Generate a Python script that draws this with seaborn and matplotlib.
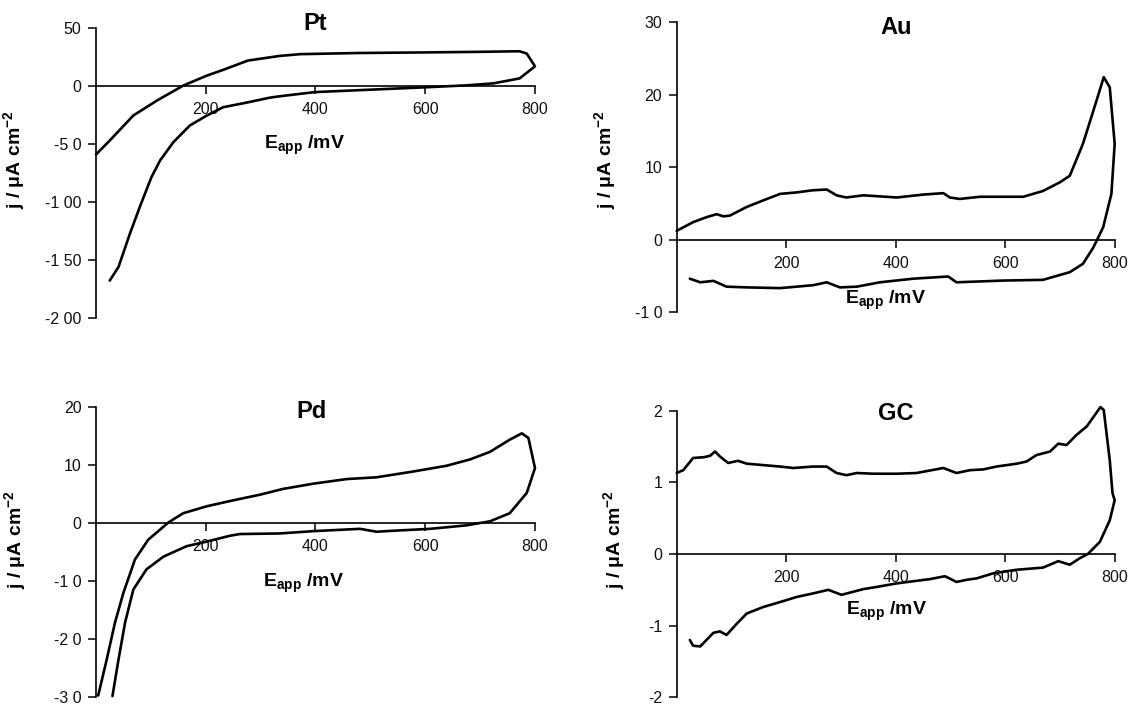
import numpy as np
import matplotlib
matplotlib.use("Agg")
import matplotlib.pyplot as plt
import seaborn as sns

sns.set_theme(style="white")
plt.rcParams["font.family"] = ["Liberation Sans", "DejaVu Sans"]
plt.rcParams["text.color"] = "black"
plt.rcParams["axes.labelcolor"] = "black"
plt.rcParams["mathtext.fontset"] = "custom"
plt.rcParams["mathtext.rm"] = "Liberation Sans"
plt.rcParams["mathtext.bf"] = "Liberation Sans:bold"
plt.rcParams["mathtext.it"] = "Liberation Sans:italic"

# Pt: forward (anodic) and reverse scan, E in mV, j in uA cm-2
pt_E_fwd = [0, 25, 68, 111, 159, 202, 232, 277, 335, 372, 480, 600, 700, 772, 785, 800]
pt_j_fwd = [-59, -47, -25.4, -12.5, 0.4, 9, 14, 22, 26, 27.5, 28.5, 29, 29.5, 30, 28, 17]
pt_E_rev = [800, 772, 724, 675, 599, 487, 399, 335, 317, 269, 232, 202, 171, 141, 117, 101, 80, 62, 41, 25]
pt_j_rev = [17, 6.6, 2.3, 0.6, -1.1, -3.4, -5.2, -8.8, -10, -14.8, -18.2, -25.4, -34, -48.4, -64, -78.6,
            -104, -127, -156, -167.7]

# Au
au_E_fwd = [0, 30, 55, 73, 85, 97, 128, 158, 189, 219, 249, 274, 292, 310, 341, 402, 450, 487,
            499, 517, 554, 633, 669, 700, 718, 742, 767, 780, 791, 800]
au_j_fwd = [1.2, 2.4, 3.1, 3.5, 3.2, 3.3, 4.5, 5.4, 6.3, 6.5, 6.8, 6.9, 6.1, 5.8, 6.1, 5.8, 6.2, 6.4,
            5.8, 5.6, 5.9, 5.9, 6.7, 7.9, 8.8, 13.2, 19.2, 22.4, 21.0, 13.2]
au_E_rev = [800, 794, 779, 761, 742, 718, 669, 596, 511, 496, 432, 371, 329, 298, 274, 249,
            189, 128, 91, 67, 43, 24]
au_j_rev = [13.2, 6.3, 1.7, -1.1, -3.35, -4.5, -5.56, -5.66, -5.9, -5.1, -5.4, -5.9, -6.5, -6.6, -5.9, -6.3,
            -6.7, -6.6, -6.5, -5.7, -5.9, -5.4]

# Pd
pd_E_fwd = [4, 19.5, 34.6, 49.8, 71, 95, 132, 159, 202, 244, 299, 341, 396, 457, 511, 578, 639, 682, 718,
            754, 776, 788, 794, 800]
pd_j_fwd = [-29.8, -23.6, -17.2, -12.1, -6.3, -2.9, 0.1, 1.7, 2.9, 3.8, 4.9, 5.9, 6.8, 7.6, 7.9, 8.9, 9.9,
            11.0, 12.3, 14.4, 15.5, 14.7, 12.1, 9.5]
pd_E_rev = [800, 785, 754, 718, 675, 609, 548, 511, 481, 396, 335, 262, 244, 202, 165, 123, 92, 68, 53, 41, 30]
pd_j_rev = [9.5, 5.2, 1.7, 0.3, -0.4, -1.0, -1.3, -1.5, -1.0, -1.4, -1.8, -1.9, -2.2, -3.2, -4.0, -5.8,
            -8.0, -11.5, -17.2, -23.6, -29.9]

# GC
gc_E_fwd = [0, 12, 30, 49, 61, 70, 79, 94, 112, 128, 189, 213, 249, 274, 292, 310, 329, 359, 402,
            438, 487, 511, 536, 560, 584, 621, 639, 657, 682, 697, 712, 730, 749, 774, 780, 791, 796, 800]
gc_j_fwd = [1.13, 1.17, 1.34, 1.35, 1.37, 1.43, 1.36, 1.27, 1.30, 1.26, 1.22, 1.20, 1.22, 1.22, 1.13,
            1.10, 1.13, 1.12, 1.12, 1.13, 1.20, 1.13, 1.17, 1.18, 1.22, 1.26, 1.29, 1.38, 1.43, 1.54,
            1.52, 1.66, 1.78, 2.05, 2.01, 1.31, 0.85, 0.75]
gc_E_rev = [800, 791, 773, 751, 736, 718, 697, 669, 621, 578, 548, 530, 511, 490, 463, 402, 365, 341,
            301, 277, 249, 219, 189, 158, 128, 110, 91, 79, 67, 43, 30, 24]
gc_j_rev = [0.75, 0.47, 0.17, 0, -0.06, -0.15, -0.10, -0.19, -0.22, -0.27, -0.34, -0.36, -0.39, -0.31,
            -0.35, -0.41, -0.46, -0.49, -0.57, -0.50, -0.55, -0.60, -0.67, -0.74, -0.83, -0.97, -1.13,
            -1.08, -1.10, -1.29, -1.28, -1.20]

panels = [
    ("Pt", pt_E_fwd + pt_E_rev, pt_j_fwd + pt_j_rev, (-200, 50),
     [50, 0, -50, -100, -150, -200], ["50", "0", "-5 0", "-1 00", "-1 50", "-2 00"]),
    ("Au", au_E_fwd + au_E_rev, au_j_fwd + au_j_rev, (-10, 30),
     [30, 20, 10, 0, -10], ["30", "20", "10", "0", "-1 0"]),
    ("Pd", pd_E_fwd + pd_E_rev, pd_j_fwd + pd_j_rev, (-30, 20),
     [20, 10, 0, -10, -20, -30], ["20", "10", "0", "-1 0", "-2 0", "-3 0"]),
    ("GC", gc_E_fwd + gc_E_rev, gc_j_fwd + gc_j_rev, (-2, 2),
     [2, 1, 0, -1, -2], ["2", "1", "0", "-1", "-2"]),
]

# axes rectangles, title / x-label / y-label positions in axes fraction
rects = [[0.0848, 0.5489, 0.3878, 0.4113], [0.5978, 0.5574, 0.3869, 0.4113],
         [0.0848, 0.0118, 0.3878, 0.4105], [0.5978, 0.0109, 0.3869, 0.4066]]
title_pos = [(0.50, 1.015), (0.50, 0.98), (0.49, 0.985), (0.50, 0.99)]
xlab_pos = [(0.474, 0.597), (0.476, 0.041), (0.472, 0.393), (0.478, 0.298)]
ylab_pos = [(-0.157, 0.545), (-0.134, 0.524), (-0.155, 0.541), (-0.113, 0.549)]

fig = plt.figure(figsize=(11.32, 7.05), dpi=100)

for i, (name, E, j, ylim, yt, ytl) in enumerate(panels):
    ax = fig.add_axes(rects[i])
    sns.lineplot(x=E, y=j, sort=False, estimator=None, color="black", lw=1.9, ax=ax)
    for ln in ax.lines:
        ln.set_clip_on(False)
    ax.set_xlim(0, 800)
    ax.set_ylim(*ylim)
    ax.spines["top"].set_visible(False)
    ax.spines["right"].set_visible(False)
    ax.spines["bottom"].set_position(("data", 0))
    for s in ["left", "bottom"]:
        ax.spines[s].set_color("black")
        ax.spines[s].set_linewidth(1.2)
    ax.set_xticks([200, 400, 600, 800])
    ax.set_xticklabels(["200", "400", "600", "800"])
    ax.set_yticks(yt)
    ax.set_yticklabels(ytl)
    ax.tick_params(axis="both", direction="out", length=5.5, width=1.1, color="black",
                   labelsize=11.5, labelcolor="#111111", bottom=True, left=True)
    ax.tick_params(axis="x", pad=6)
    ax.tick_params(axis="y", pad=5)
    ax.set_facecolor("none")

    ax.text(title_pos[i][0], title_pos[i][1], name, transform=ax.transAxes,
            ha="center", va="center", fontsize=17, fontweight="bold", color="black")
    ax.text(xlab_pos[i][0], xlab_pos[i][1], r"E$_{\mathbf{app}}$ /mV", transform=ax.transAxes,
            ha="center", va="center", fontsize=14, fontweight="bold", color="black")
    ax.set_ylabel(r"j / μA cm$^{\mathbf{-2}}$", fontsize=14, fontweight="bold", color="black")
    ax.yaxis.set_label_coords(*ylab_pos[i])
    ax.set_xlabel("")

fig.savefig("out.png", dpi=100, facecolor="white")
